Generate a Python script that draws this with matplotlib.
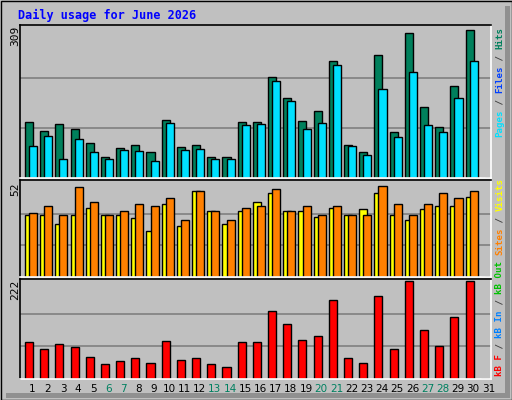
import matplotlib
matplotlib.use('Agg')
import matplotlib.pyplot as plt
import numpy as np

days = np.arange(1, 32)
hits = [115, 97, 111, 101, 73, 44, 61, 69, 53, 119, 63, 69, 44, 44, 115,
        115, 208, 164, 117, 137, 240, 69, 53, 253, 95, 299, 147, 105, 190, 305, 0]
pages = [65, 87, 40, 81, 53, 40, 57, 55, 34, 113, 57, 59, 40, 40, 109,
         111, 200, 158, 101, 113, 232, 65, 48, 184, 85, 218, 109, 95, 164, 242, 0]
visits = [34, 34, 29, 34, 38, 34, 34, 32, 25, 40, 28, 47, 36, 29, 36,
          41, 46, 36, 36, 33, 38, 34, 37, 46, 34, 31, 37, 39, 39, 44, 0]
sites = [35, 39, 34, 49, 41, 34, 36, 40, 39, 43, 31, 47, 36, 31, 38,
         39, 48, 36, 39, 34, 39, 34, 34, 50, 40, 34, 40, 46, 43, 47, 0]
kbytes = [84, 69, 79, 72, 50, 33, 40, 48, 36, 86, 43, 48, 33, 28, 84,
          84, 154, 125, 89, 98, 178, 48, 36, 188, 67, 222, 111, 74, 140, 222, 0]
weekends = [6, 7, 13, 14, 20, 21, 27, 28]

BG = '#C0C0C0'
W, H = 512, 400
fig = plt.figure(figsize=(W / 100, H / 100), dpi=100, facecolor=BG)

# outer frame + shadow
frame = fig.add_axes([0, 0, 1, 1], facecolor='none')
frame.set_xlim(0, W); frame.set_ylim(H, 0); frame.axis('off')
frame.add_patch(plt.Rectangle((0.5, 0.5), W - 1, H - 1, fill=False, ec='black', lw=1))
frame.add_patch(plt.Rectangle((W - 7, 6), 5, H - 8, color='#909090', lw=0))
frame.add_patch(plt.Rectangle((6, H - 7), W - 8, 5, color='#909090', lw=0))
frame.text(18, 15, 'Daily usage for June 2026', color='#0000FF', fontsize=8.5,
           family='DejaVu Sans Mono', fontweight='bold', va='center')


def panel(y0, y1):
    ax = fig.add_axes([20 / W, 1 - y1 / H, 471 / W, (y1 - y0) / H], facecolor=BG)
    ax.set_xlim(0.5, 31.5)
    ax.set_xticks([]); ax.set_yticks([])
    for s in ('top', 'left'):
        ax.spines[s].set_color('black')
    for s in ('bottom', 'right'):
        ax.spines[s].set_color('white')
    for s in ax.spines.values():
        s.set_linewidth(1.2)
    return ax


def grid(ax, top):
    for f in (1 / 3, 2 / 3):
        ax.axhline(top * f, color='#808080', lw=1.2, zorder=0)
    ax.set_ylim(0, top * 1.02)


ax1 = panel(25, 178)
grid(ax1, 309)
ax1.bar(days + 0.09, hits, 0.53, color='#00805C', ec='black', lw=1)
ax1.bar(days + 0.36, pages, 0.53, color='#00E0FF', ec='black', lw=1)

ax2 = panel(180, 277)
grid(ax2, 52)
ax2.bar(days + 0.09, visits, 0.53, color='#FFFF00', ec='black', lw=1)
ax2.bar(days + 0.36, sites, 0.53, color='#FF8000', ec='black', lw=1)

ax3 = panel(279, 379)
grid(ax3, 222)
ax3.bar(days + 0.09, kbytes, 0.53, color='#FF0000', ec='black', lw=1)

# y max labels
for y, lab in ((26, '309'), (182, '52'), (280, '222')):
    frame.text(15, y, lab, rotation=90, ha='center', va='top', fontsize=8,
               family='DejaVu Sans Mono')

# day labels
for d in days:
    x = 20 + (d - 0.5) * 471 / 31 + 5
    frame.text(x, 389, str(d), ha='center', va='center', fontsize=7.5,
               color='#008060' if d in weekends else 'black')

# rotated legend strings
CH = 5.5


def vtext(y_bottom, parts):
    y = y_bottom
    for txt, col in parts:
        frame.text(500, y, txt, rotation=90, ha='center', va='bottom', color=col,
                   fontsize=6.6, family='DejaVu Sans Mono', fontweight='bold')
        y -= len(txt) * CH


vtext(137, [('Pages', '#00E0FF'), (' / ', '#404040'), ('Files', '#0040FF'),
            (' / ', '#404040'), ('Hits', '#00805C')])
vtext(376, [('kB F', '#FF0000'), (' / ', '#404040'), ('kB In', '#0080FF'),
            (' / ', '#404040'), ('kB Out', '#00C000'), (' ', '#404040'),
            ('Sites', '#FF8000'), (' / ', '#404040'), ('Visits', '#FFFF00')])

fig.savefig('out.png', dpi=100, facecolor=BG)
